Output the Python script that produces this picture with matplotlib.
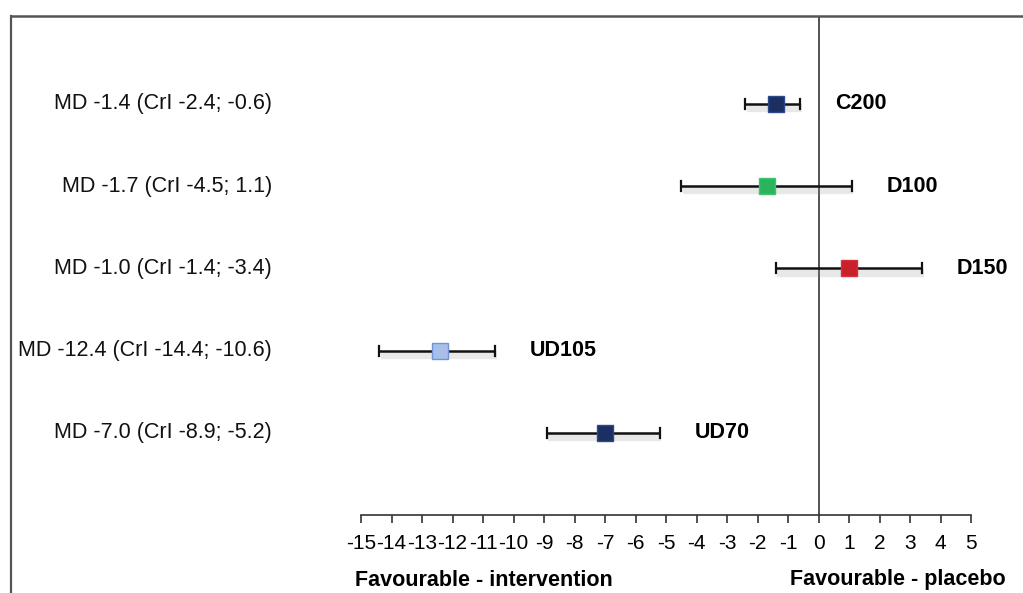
import matplotlib
matplotlib.use("Agg")
from matplotlib import pyplot as plt
from matplotlib.lines import Line2D
import matplotlib.patheffects as pe

plt.rcParams['font.family'] = ['Liberation Sans', 'DejaVu Sans']

# data (top to bottom)
names = ['C200', 'D100', 'D150', 'UD105', 'UD70']
md_text = ['MD -1.4 (CrI -2.4; -0.6)', 'MD -1.7 (CrI -4.5; 1.1)', 'MD -1.0 (CrI -1.4; -3.4)',
           'MD -12.4 (CrI -14.4; -10.6)', 'MD -7.0 (CrI -8.9; -5.2)']
means = [-1.4, -1.7, 1.0, -12.4, -7.0]
lows = [-2.4, -4.5, -1.4, -14.4, -8.9]
highs = [-0.6, 1.1, 3.4, -10.6, -5.2]
face_cols = ['#1c2f62', '#2bb35e', '#c9202b', '#a9bfea', '#1c2f62']
edge_cols = ['#2c4a8a', '#3cc46e', '#d83038', '#6f95d8', '#2c4a8a']
xticks = list(range(-15, 6))

W, H = 1023, 593
fig = plt.figure(figsize=(W / 100, H / 100), dpi=100)
ax = fig.add_axes([361 / W, 78 / H, 610 / W, 499 / H])

rows = list(range(len(names), 0, -1))
shadow = [pe.SimpleLineShadow(offset=(1, -3), shadow_color='#909090', alpha=0.2, linewidth=6), pe.Normal()]

for y, m, lo, hi, fc, ec, nm, txt in zip(rows, means, lows, highs, face_cols, edge_cols, names, md_text):
    ax.plot([lo, hi], [y, y], color='#111111', lw=1.8, path_effects=shadow, zorder=2, solid_capstyle='butt')
    ax.plot([lo, lo], [y - 0.06, y + 0.06], color='#111111', lw=1.6, zorder=2)
    ax.plot([hi, hi], [y - 0.06, y + 0.06], color='#111111', lw=1.6, zorder=2)
    ax.plot([m], [y], marker='s', ms=11, mfc=fc, mec=ec, mew=1, zorder=3, ls='none')
    ax.annotate(nm, (hi, y), xytext=(25, 0), textcoords='offset points', va='center', ha='left',
                fontsize=15.5, fontweight='bold')
    ax.annotate(txt, (-15, y), xytext=(-64, 0), textcoords='offset points', va='center', ha='right',
                fontsize=15.5, color='#111111')

ax.axvline(0, color='#444444', lw=1.3, zorder=1)

ax.set_xlim(-15, 5)
ax.set_ylim(0, 6.07)
ax.set_xticks(xticks)
ax.set_xticklabels([str(t) for t in xticks], fontsize=15)
ax.set_yticks([])
for s in ['left', 'right', 'top']:
    ax.spines[s].set_visible(False)
ax.spines['bottom'].set_color('#333333')
ax.spines['bottom'].set_linewidth(1.2)
ax.tick_params(axis='x', direction='out', length=6, width=1.2, color='#333333', pad=8)

# frame
fig.add_artist(Line2D([11 / W, 11 / W], [0, 1 - 16 / H], color='#555555', lw=1.6))
fig.add_artist(Line2D([11 / W, 1], [1 - 16 / H, 1 - 16 / H], color='#555555', lw=1.8))

fig.text(355 / W, 1 - 580 / H, 'Favourable - intervention', fontsize=15.5, fontweight='bold', va='center', ha='left')
fig.text(790 / W, 1 - 580 / H, 'Favourable - placebo', fontsize=15.5, fontweight='bold', va='center', ha='left')

fig.savefig('out.png', dpi=100)
